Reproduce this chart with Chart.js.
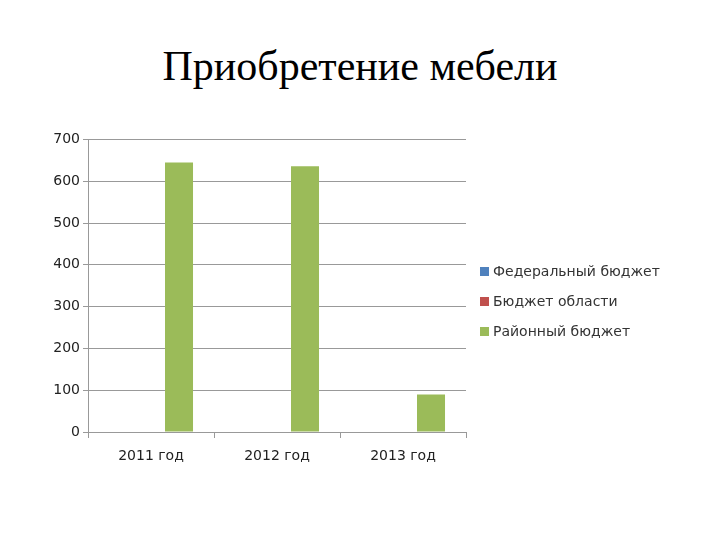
<!DOCTYPE html>
<html>
<head>
<meta charset="utf-8">
<script src="https://cdn.jsdelivr.net/npm/chart.js@4"></script>
<style>
  body { margin: 0; width: 720px; height: 540px; background: #fff; position: relative; overflow: hidden; }
  #title { position: absolute; top: 42px; left: 0; width: 720px; text-align: center;
           font-family: "Liberation Serif", serif; font-size: 42px; color: #000; }
  #wrap { position: absolute; left: 30px; top: 128px; width: 480px; height: 350px; }
  #legend { position: absolute; left: 480px; top: 263px; font-family: "DejaVu Sans", sans-serif;
            font-size: 14px; color: #333; }
  #legend div { height: 30px; display: flex; align-items: flex-start; }
  #legend span { display: inline-block; width: 9px; height: 9px; margin: 4px 4px 0 0; }
</style>
</head>
<body>
<div id="title">Приобретение мебели</div>
<div id="wrap"><canvas id="c"></canvas></div>
<div id="legend"></div>
<script>
// Данные
const categories = ['2011 год', '2012 год', '2013 год'];
const seriesNames = ['Федеральный бюджет', 'Бюджет области', 'Районный бюджет'];
const federal = [0, 0, 0];
const oblast = [0, 0, 0];
const rayon = [645, 636, 90];
const colors = ['#4f81bd', '#c0504d', '#9bbb59'];

const legend = document.getElementById('legend');
seriesNames.forEach((n, i) => {
    legend.innerHTML += `<div><span style="background:${colors[i]}"></span>${n}</div>`;
});

new Chart(document.getElementById('c'), {
    type: 'bar',
    data: {
        labels: categories,
        datasets: [federal, oblast, rayon].map((d, i) => ({
            label: seriesNames[i], data: d, backgroundColor: colors[i],
            categoryPercentage: 0.667, barPercentage: 1
        }))
    },
    options: {
        responsive: true, maintainAspectRatio: false, animation: false,
        layout: { padding: { top: 10, right: 44 } },
        plugins: { legend: { display: false }, tooltip: { enabled: false } },
        scales: {
            y: {
                min: 0, max: 700,
                ticks: { stepSize: 100, color: '#222', font: { family: 'DejaVu Sans', size: 14 } },
                grid: { color: '#999', drawTicks: true, tickLength: 5 },
                border: { color: '#999' },
                afterFit: s => { s.width = 58; }
            },
            x: {
                ticks: { color: '#222', padding: 10, font: { family: 'DejaVu Sans', size: 14 } },
                grid: { display: true, drawOnChartArea: false, color: '#999', tickLength: 6, offset: true },
                border: { color: '#999' },
                afterFit: s => { s.height = 46; }
            }
        }
    }
});
</script>
</body>
</html>
